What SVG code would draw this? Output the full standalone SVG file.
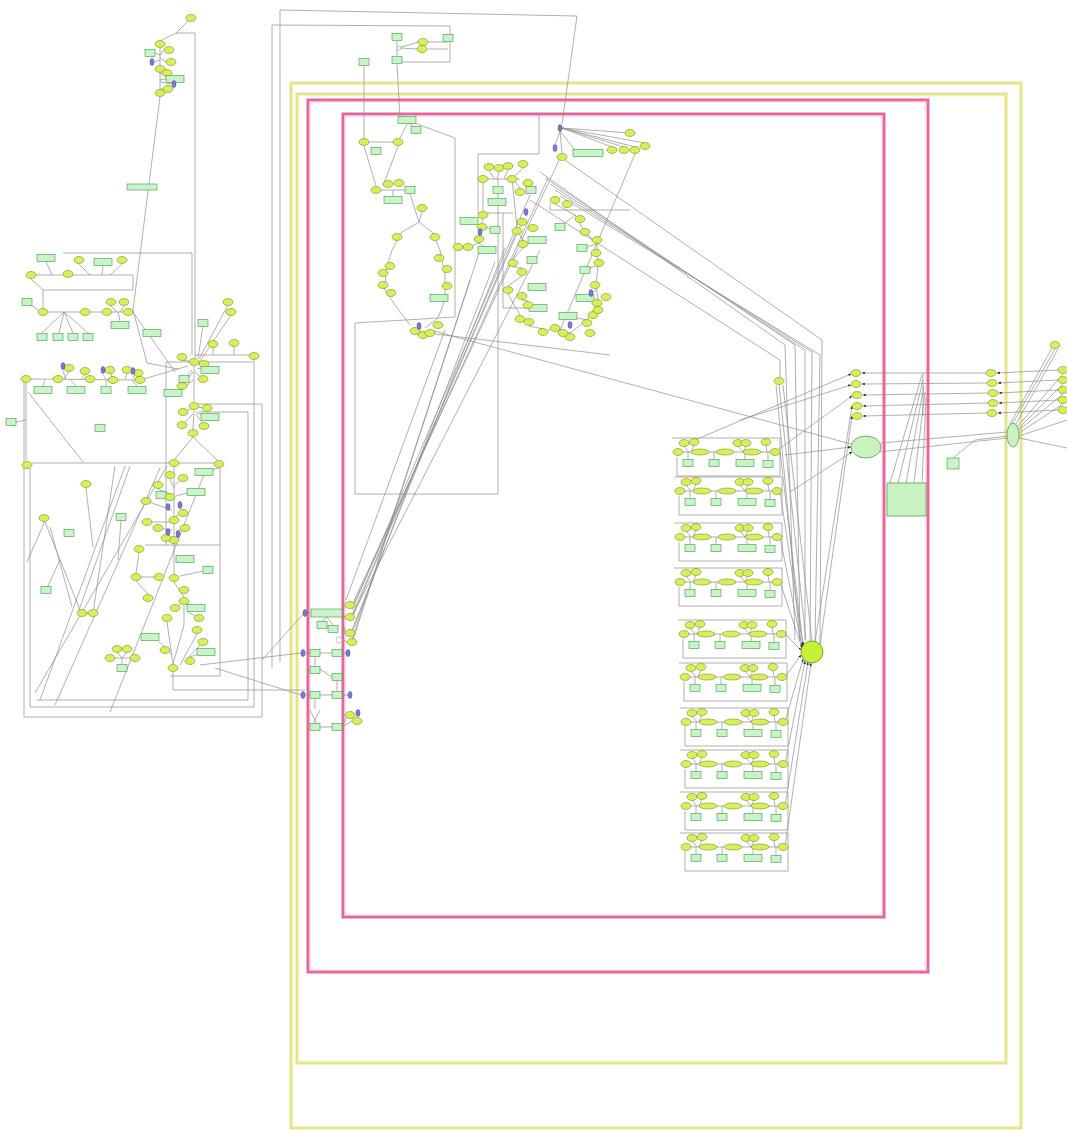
<svg xmlns="http://www.w3.org/2000/svg" xmlns:xlink="http://www.w3.org/1999/xlink" width="1067" height="1131" viewBox="0 0 1067 1131">
<style>
.cy{fill:none;stroke:#e4e48c;stroke-width:3}
.cyi{fill:none;stroke:#f6f6cc;stroke-width:1}
.cp{fill:none;stroke:#e8649c;stroke-width:3}
.cpi{fill:none;stroke:#f8c8dc;stroke-width:1}
.c{fill:none;stroke:#8e8e8e;stroke-width:0.7}
.ne{fill:#d6ef5a;stroke:#7d8f1a;stroke-width:0.6}
.nr{fill:#c9f3c9;stroke:#3f9a3f;stroke-width:0.6}
.nb{fill:#7b7bd6;stroke:#4444a0;stroke-width:0.5}
.big{fill:#c8f2c0;stroke:#5a9a5a;stroke-width:0.8}
</style>
<defs>
<marker id="a" viewBox="0 0 6 6" refX="6" refY="3" markerWidth="4" markerHeight="4" orient="auto"><path d="M0,0L6,3L0,6z" fill="#222"/></marker>
<ellipse id="e" rx="5" ry="3.5" class="ne"/>
<rect id="r" x="-5" y="-3.5" width="10" height="7" class="nr"/>
<rect id="w" x="-9" y="-3.5" width="18" height="7" class="nr"/>
<ellipse id="b" rx="2" ry="3.5" class="nb"/>
<ellipse id="l" rx="9" ry="3" class="ne"/>
<g id="rowT">
<path class="c" d="M-3,-14 L105,-14 L105,24 L2,24 L2,5 M3,0 L100,0 M9,-6 L14,0 M19,-7 L16,0 M63,-6 L68,0 M71,-6 L68,0 M91,-7 L92,0 M13,0 L13,8 M39,0 L39,8 M70,0 L70,8 M93,0 L93,9"/>
<use href="#e" x="3" y="0"/>
<use href="#l" x="25" y="0"/>
<use href="#l" x="50" y="0"/>
<use href="#l" x="77" y="0"/>
<use href="#e" x="100" y="0"/>
<use href="#e" x="9" y="-9"/>
<use href="#e" x="19" y="-10"/>
<use href="#e" x="63" y="-9"/>
<use href="#e" x="71" y="-9"/>
<use href="#e" x="91" y="-10"/>
<use href="#r" x="13" y="11"/>
<use href="#r" x="39" y="11"/>
<use href="#w" x="70" y="11"/>
<use href="#r" x="93" y="12"/>
</g>
</defs>
<rect width="1067" height="1131" fill="#ffffff"/>

<g id="compartments">
<rect x="291" y="83" width="730" height="1045" class="cy"/>
<rect x="293" y="85" width="726" height="1041" class="cyi"/>
<rect x="297" y="94" width="709" height="969" class="cy"/>
<rect x="299" y="96" width="705" height="965" class="cyi"/>
<rect x="308" y="100" width="620" height="872" class="cp"/>
<rect x="310" y="102" width="616" height="868" class="cpi"/>
<rect x="343" y="114" width="541" height="803" class="cp"/>
<rect x="345" y="116" width="537" height="799" class="cpi"/>
</g>

<g id="connectors">
<!-- top-left chain -->
<path class="c" d="M191,18 L176,33 L195,33 L195,358 M176,33 L160,41 M160,48 L160,90 M160,55 L155,53 M160,55 L164,50 M160,58 L166,62 M160,60 L154,62 M160,75 L162,73 M160,80 L166,79 M160,82 L172,84 M160,89 L163,89 M160,97 L133,310 L147,363 L178,369"/>
<!-- left upper -->
<path class="c" d="M46,262 L52,275 M79,264 L90,275 M103,266 L102,275 M122,264 L110,275 M31,275 L133,275 L133,290 L43,290 L43,308 M63,253 L192,253 L192,355 M31,279 L43,290 M27,302 L38,310 M48,312 L123,312 M64,312 L42,333 M64,312 L59,333 M64,312 L73,333 M64,312 L88,333 M111,306 L117,312 M124,306 L120,312 M118,312 L120,321 M133,312 L175,372"/>
<path class="c" d="M228,305 L199,359 M231,315 L200,361 M213,347 L213,355 M234,346 L234,355 M195,355 L254,355 L254,707 L30,707 L30,468 M203,326 L198,358"/>
<!-- hub -->
<path class="c" d="M31,379 L140,380 L188,366 M69,371 L64,379 M85,374 L82,379 M113,376 L110,379 M110,373 L113,379 M127,373 L125,379 M138,376 L140,380 M63,371 L66,379 M103,375 L106,379 M133,376 L135,379 M43,386 L45,380 M76,386 L70,379 M106,386 L106,380 M137,386 L132,380 M16,422 L26,420 M26,383 L26,460 M182,360 L194,362 M204,364 L196,362 M184,379 L192,370 M207,370 L197,368 M182,386 L193,372 M203,379 L195,372 M178,393 L193,380 M194,366 L194,402 M183,412 L193,408 M207,408 L196,407 M205,417 L196,412 M182,425 L193,414 M204,426 L196,414 M194,410 L193,429 M193,437 L175,459 M193,437 L217,460 M32,463 L169,463 M179,463 L214,463 M219,468 L205,472"/>
<!-- vertical chain -->
<path class="c" d="M174,467 L174,574 M183,478 L175,485 M170,479 L174,488 M158,489 L172,495 M161,495 L172,496 M191,492 L176,496 M170,497 L174,500 M146,501 L172,510 M183,513 L176,516 M147,522 L172,522 M158,528 L172,530 M185,528 L176,532 M166,538 L172,540 M174,582 L184,597 M184,605 L184,625 L173,664 M167,622 L173,664 M197,634 L180,665 M155,637 L172,655 M203,642 L186,660 M203,652 L190,657 M193,608 L186,604 M175,608 L182,603 M199,618 L188,612 M183,559 L176,560 M208,570 L180,576 M139,553 L136,573 M136,581 L148,594 M141,577 L154,577 M110,658 L135,658 M122,658 L122,664 M117,652 L122,658 M127,652 L122,658 M82,613 L93,613"/>
<!-- left frames and diagonals -->
<path class="c" d="M195,404 L262,404 L262,717 L24,717 L24,380 M199,412 L248,412 L248,700 L37,700 M166,362 L253,362 M166,362 L166,545 M145,545 L220,545 M220,467 L220,676 L170,676 M35,693 L167,466 M78,613 L130,466 M93,613 L115,466 M27,562 L45,521 M45,522 L80,610 M50,527 L72,607 M86,488 L93,547 M28,392 L83,462 M40,700 L125,466 M55,705 L160,468 M110,712 L205,472 M46,590 L60,560 M121,521 L118,560 M173,672 L173,690 L305,690 M200,665 L301,653 M215,668 L301,695 M262,660 L305,612"/>
<!-- top long lines -->
<path class="c" d="M280,662 L280,10 L577,16 L562,124 M272,668 L272,25 L450,26 L450,62 L402,62"/>
<!-- top middle small box -->
<path class="c" d="M397,41 L397,56 M399,48 L418,42 M399,48 L418,49 M428,42 L448,42 M428,49 L448,49 M364,66 L364,138 M397,64 L400,118 L416,128 M401,118 L455,138 L455,317 L355,323 L355,494 L498,494 L498,205 M369,142 L393,142 M364,146 L376,186 M398,146 L383,186 M381,190 L405,190 M393,190 L393,196 M410,194 L419,222 M422,212 L419,222 M407,124 L400,138"/>
<!-- left ring -->
<path class="c" d="M419,222 L402,232 L392,250 L386,270 L385,290 L395,305 L410,325 M419,222 L432,232 L440,250 L445,275 L445,300 L438,318 L425,328 M430,330 L851,444 M435,334 L610,355"/>
<!-- middle cluster -->
<path class="c" d="M478,154 L539,154 L539,115 M478,154 L478,213 L513,213 M503,213 L503,308 L540,308 M483,179 L520,179 M489,171 L495,179 M499,172 L497,179 M508,170 L504,179 M498,179 L498,186 M498,194 L498,198 M512,179 L523,168 M512,179 L520,188 M483,183 L483,211 M483,219 L482,223 M482,231 L479,235 M479,243 L468,247 M474,221 L482,227 M483,227 L495,230 M517,231 L523,240 M523,248 L513,259 M513,267 L522,268 M522,276 L508,286 M508,294 L520,315 M522,300 L528,301 M529,326 L543,329 M512,179 L517,227 M458,247 L468,247 M487,250 L479,243"/>
<!-- right ring -->
<path class="c" d="M555,204 L575,215 L585,232 L597,244 L598,265 L596,285 L598,300 L593,312 L587,320 L570,333 L555,328 L543,332 M560,227 L575,215 M582,248 L597,244 M585,270 L598,265 M585,298 L596,290 M568,316 L587,320 M550,203 L550,210 L630,210"/>
<!-- top right cluster -->
<path class="c" d="M562,128 L630,133 M562,128 L645,143 M562,128 L635,147 M562,128 L624,147 M562,128 L612,147 M560,131 L562,153 M560,131 L555,145 M560,131 L575,150 M635,154 L560,330"/>
<!-- fan from left pink nodes -->
<path class="c" d="M352,605 L560,158 M352,608 L548,178 M352,610 L530,195 M352,615 L522,222 M352,618 L515,235 M352,630 L505,248 M352,633 L495,262 M352,640 L480,250 M352,643 L470,280 M346,600 L445,330 M350,620 L540,250"/>
<!-- long diagonal lines to right -->
<path class="c" d="M540,172 L785,345 L795,640 M545,178 L795,345 L800,640 M550,184 L805,350 L805,640 M555,190 L812,352 L810,642 M560,196 L820,355 L815,642 M565,160 L822,340 L820,645 M530,200 L780,360 L780,385"/>
<!-- left pink (region E) -->
<path class="c" d="M307,613 L311,613 M342,611 L345,606 M342,615 L345,617 M327,617 L322,621 M327,617 L333,625 M342,617 L345,633 M339,637 L347,642 M305,653 L310,653 M320,653 L332,653 M342,653 L346,653 M315,657 L315,666 L332,677 M337,681 L337,691 M305,695 L310,695 M320,695 L332,695 M342,695 L348,695 M315,699 L315,709 M310,710 L320,730 M320,710 L310,730 M320,727 L332,727 M342,727 L352,721 M342,727 L347,716"/>
<!-- rows to big node -->
<path class="c" marker-end="url(#a)" d="M780,452 L803,645"/>
<path class="c" marker-end="url(#a)" d="M780,491 L803,646"/>
<path class="c" marker-end="url(#a)" d="M780,537 L802,647"/>
<path class="c" marker-end="url(#a)" d="M780,582 L802,648"/>
<path class="c" marker-end="url(#a)" d="M785,634 L801,650"/>
<path class="c" marker-end="url(#a)" d="M785,677 L801,655"/>
<path class="c" marker-end="url(#a)" d="M785,722 L803,659"/>
<path class="c" marker-end="url(#a)" d="M785,764 L805,661"/>
<path class="c" marker-end="url(#a)" d="M785,806 L808,662"/>
<path class="c" marker-end="url(#a)" d="M785,847 L811,663"/>
<path class="c" d="M779,385 L806,641 M783,385 L812,641 M776,385 L800,641"/>
<!-- rows to right column -->
<path class="c" marker-end="url(#a)" d="M690,442 L851,374"/>
<path class="c" marker-end="url(#a)" d="M740,420 L851,385"/>
<path class="c" marker-end="url(#a)" d="M775,452 L852,396"/>
<path class="c" marker-end="url(#a)" d="M815,642 L852,406"/>
<path class="c" marker-end="url(#a)" d="M820,645 L852,416"/>
<path class="c" marker-end="url(#a)" d="M785,455 L851,447"/>
<path class="c" marker-end="url(#a)" d="M790,492 L852,452"/>
<!-- right section horizontals -->
<path class="c" marker-end="url(#a)" d="M986,373 L862,373"/>
<path class="c" marker-end="url(#a)" d="M987,383 L862,384"/>
<path class="c" marker-end="url(#a)" d="M988,393 L863,395"/>
<path class="c" marker-end="url(#a)" d="M988,403 L863,406"/>
<path class="c" marker-end="url(#a)" d="M987,413 L863,416"/>
<path class="c" marker-end="url(#a)" d="M1058,370 L997,373"/>
<path class="c" marker-end="url(#a)" d="M1058,380 L998,383"/>
<path class="c" marker-end="url(#a)" d="M1058,390 L999,393"/>
<path class="c" marker-end="url(#a)" d="M1058,400 L999,403"/>
<path class="c" marker-end="url(#a)" d="M1058,410 L998,413"/>
<path class="c" d="M1055,349 L1013,423 M1058,349 L1016,424 M1063,374 L1017,427 M1063,384 L1018,429 M1063,394 L1018,431 M1063,404 L1019,433 M1019,438 L1067,448 M1019,436 L1067,420 M1052,348 L1010,424 M881,443 L1007,432 M879,452 L1007,438 M953,458 L975,440 L1007,436 M890,483 L922,375 M898,483 L923,380 M906,483 L924,386 M914,483 L925,392 M922,483 L926,398 M923,373 L923,416"/>
</g>

<g id="cluster-topleft">
<use href="#e" x="191" y="18"/><use href="#e" x="160" y="44"/><use href="#r" x="150" y="53"/><use href="#e" x="169" y="50"/><use href="#e" x="171" y="62"/><use href="#b" x="152" y="62"/><use href="#e" x="160" y="69"/><use href="#e" x="167" y="73"/><use href="#w" x="175" y="79"/><use href="#b" x="174" y="84"/><use href="#e" x="160" y="93"/><use href="#e" x="168" y="89"/>
<rect x="127" y="184" width="30" height="6" class="nr"/>
</g>

<g id="cluster-leftupper">
<use href="#w" x="46" y="258"/><use href="#e" x="79" y="260"/><use href="#w" x="103" y="262"/><use href="#e" x="122" y="260"/><use href="#e" x="31" y="275"/><use href="#e" x="68" y="274"/><use href="#r" x="27" y="302"/><use href="#e" x="43" y="312"/><use href="#e" x="85" y="312"/><use href="#e" x="107" y="312"/><use href="#e" x="128" y="312"/><use href="#e" x="111" y="302"/><use href="#e" x="124" y="302"/><use href="#w" x="120" y="325"/><use href="#r" x="42" y="337"/><use href="#r" x="58" y="337"/><use href="#r" x="73" y="337"/><use href="#r" x="88" y="337"/><use href="#w" x="152" y="333"/>
<use href="#e" x="228" y="302"/><use href="#e" x="231" y="312"/><use href="#r" x="203" y="323"/><use href="#e" x="213" y="344"/><use href="#e" x="234" y="343"/><use href="#e" x="254" y="356"/>
</g>

<g id="cluster-hub">
<use href="#e" x="194" y="362"/><use href="#e" x="182" y="357"/><use href="#e" x="204" y="364"/><use href="#r" x="184" y="379"/><use href="#w" x="210" y="370"/><use href="#e" x="182" y="386"/><use href="#e" x="203" y="379"/><use href="#w" x="173" y="393"/><use href="#e" x="194" y="406"/><use href="#e" x="183" y="412"/><use href="#e" x="207" y="408"/><use href="#w" x="210" y="417"/><use href="#e" x="182" y="425"/><use href="#e" x="193" y="433"/><use href="#e" x="204" y="426"/>
<use href="#e" x="26" y="379"/><use href="#e" x="58" y="379"/><use href="#e" x="69" y="368"/><use href="#e" x="85" y="371"/><use href="#e" x="90" y="379"/><use href="#e" x="113" y="380"/><use href="#e" x="110" y="370"/><use href="#e" x="127" y="370"/><use href="#e" x="138" y="373"/><use href="#e" x="140" y="380"/><use href="#w" x="43" y="390"/><use href="#w" x="76" y="390"/><use href="#r" x="106" y="390"/><use href="#w" x="137" y="390"/><use href="#b" x="63" y="366"/><use href="#b" x="103" y="370"/><use href="#b" x="133" y="371"/><use href="#r" x="11" y="422"/><use href="#r" x="100" y="428"/>
<use href="#e" x="27" y="465"/><use href="#e" x="174" y="463"/><use href="#e" x="219" y="464"/><use href="#w" x="204" y="472"/>
</g>

<g id="cluster-chain">
<use href="#e" x="183" y="478"/><use href="#e" x="170" y="475"/><use href="#e" x="158" y="485"/><use href="#r" x="161" y="495"/><use href="#w" x="196" y="492"/><use href="#e" x="170" y="497"/><use href="#e" x="146" y="501"/><use href="#e" x="183" y="513"/><use href="#e" x="174" y="520"/><use href="#e" x="147" y="522"/><use href="#e" x="158" y="528"/><use href="#e" x="185" y="528"/><use href="#e" x="174" y="540"/><use href="#e" x="166" y="538"/>
<use href="#b" x="168" y="507"/><use href="#b" x="180" y="505"/><use href="#b" x="168" y="532"/><use href="#b" x="178" y="534"/>
<use href="#e" x="86" y="484"/><use href="#e" x="44" y="518"/><use href="#r" x="69" y="533"/><use href="#r" x="121" y="517"/><use href="#e" x="139" y="549"/><use href="#e" x="136" y="577"/><use href="#e" x="159" y="577"/><use href="#e" x="148" y="598"/><use href="#e" x="174" y="578"/><use href="#w" x="185" y="559"/><use href="#r" x="208" y="570"/><use href="#e" x="184" y="590"/><use href="#w" x="196" y="608"/><use href="#e" x="175" y="608"/><use href="#e" x="184" y="601"/><use href="#e" x="199" y="618"/><use href="#e" x="167" y="618"/><use href="#e" x="197" y="630"/><use href="#w" x="150" y="637"/><use href="#e" x="203" y="642"/><use href="#w" x="206" y="652"/><use href="#e" x="165" y="650"/><use href="#e" x="190" y="661"/><use href="#e" x="173" y="668"/>
<use href="#e" x="82" y="613"/><use href="#e" x="93" y="613"/><use href="#r" x="46" y="590"/><use href="#e" x="117" y="649"/><use href="#e" x="127" y="649"/><use href="#e" x="110" y="658"/><use href="#e" x="135" y="658"/><use href="#r" x="122" y="668"/>
</g>

<g id="cluster-topmiddle">
<use href="#r" x="397" y="37"/><use href="#r" x="448" y="38"/><use href="#e" x="423" y="42"/><use href="#e" x="422" y="49"/><use href="#r" x="397" y="60"/><use href="#r" x="364" y="62"/>
<circle cx="399" cy="48" r="2" fill="#fff" stroke="#999" stroke-width="0.6"/>
</g>

<g id="cluster-ring">
<use href="#w" x="407" y="120"/><use href="#r" x="416" y="130"/><use href="#e" x="364" y="142"/><use href="#r" x="376" y="151"/><use href="#e" x="398" y="142"/><use href="#e" x="376" y="190"/><use href="#e" x="388" y="184"/><use href="#e" x="399" y="183"/><use href="#w" x="393" y="200"/><use href="#r" x="410" y="190"/><use href="#e" x="422" y="208"/>
<use href="#e" x="397" y="237"/><use href="#e" x="435" y="237"/><use href="#e" x="439" y="258"/><use href="#e" x="447" y="269"/><use href="#e" x="390" y="266"/><use href="#e" x="383" y="273"/><use href="#e" x="383" y="285"/><use href="#e" x="391" y="293"/><use href="#e" x="447" y="286"/><use href="#w" x="439" y="298"/><use href="#e" x="415" y="331"/><use href="#e" x="423" y="335"/><use href="#e" x="430" y="333"/><use href="#e" x="438" y="325"/><use href="#b" x="419" y="326"/>
</g>

<g id="cluster-middle">
<use href="#e" x="489" y="167"/><use href="#e" x="499" y="168"/><use href="#e" x="508" y="166"/><use href="#e" x="523" y="164"/><use href="#e" x="483" y="179"/><use href="#e" x="512" y="179"/><use href="#r" x="498" y="190"/><use href="#w" x="497" y="202"/><use href="#e" x="520" y="192"/><use href="#r" x="531" y="190"/><use href="#e" x="528" y="183"/>
<use href="#e" x="483" y="215"/><use href="#w" x="469" y="221"/><use href="#e" x="482" y="227"/><use href="#e" x="479" y="239"/><use href="#e" x="468" y="247"/><use href="#e" x="458" y="247"/><use href="#w" x="487" y="250"/><use href="#r" x="495" y="230"/><use href="#e" x="522" y="222"/><use href="#e" x="533" y="228"/><use href="#e" x="517" y="231"/><use href="#w" x="537" y="240"/><use href="#e" x="523" y="244"/><use href="#e" x="513" y="263"/><use href="#r" x="532" y="260"/><use href="#e" x="522" y="272"/><use href="#w" x="537" y="287"/><use href="#e" x="508" y="290"/><use href="#e" x="522" y="296"/><use href="#w" x="538" y="308"/><use href="#e" x="520" y="319"/><use href="#e" x="529" y="322"/><use href="#e" x="543" y="332"/><use href="#e" x="528" y="305"/>
<use href="#b" x="480" y="232"/><use href="#b" x="526" y="212"/>
</g>

<g id="cluster-rightring">
<use href="#e" x="555" y="200"/><use href="#e" x="567" y="204"/><use href="#r" x="560" y="227"/><use href="#e" x="580" y="219"/><use href="#e" x="585" y="232"/><use href="#e" x="597" y="240"/><use href="#r" x="582" y="248"/><use href="#e" x="596" y="253"/><use href="#e" x="599" y="263"/><use href="#r" x="585" y="270"/><use href="#e" x="595" y="285"/><use href="#e" x="606" y="297"/><use href="#w" x="585" y="298"/><use href="#e" x="597" y="303"/><use href="#e" x="593" y="315"/><use href="#e" x="598" y="310"/><use href="#e" x="587" y="323"/><use href="#w" x="568" y="316"/><use href="#e" x="590" y="333"/><use href="#e" x="570" y="337"/><use href="#e" x="563" y="333"/><use href="#e" x="555" y="328"/>
<use href="#b" x="591" y="293"/><use href="#b" x="570" y="325"/>
</g>

<g id="cluster-topright">
<use href="#b" x="560" y="128"/><use href="#e" x="562" y="157"/><rect x="573" y="149.5" width="30" height="7" class="nr"/><use href="#e" x="612" y="150"/><use href="#e" x="624" y="150"/><use href="#e" x="635" y="150"/><use href="#e" x="645" y="146"/><use href="#e" x="630" y="133"/><use href="#b" x="555" y="148"/>
</g>

<g id="cluster-pinkleft">
<use href="#b" x="305" y="613"/><rect x="311" y="609" width="31" height="8" class="nr"/><use href="#e" x="350" y="605"/><use href="#e" x="350" y="617"/><use href="#r" x="322" y="625"/><use href="#r" x="333" y="629"/><use href="#e" x="350" y="633"/><use href="#e" x="352" y="642"/>
<circle cx="339" cy="640" r="3" fill="#fff" stroke="#999" stroke-width="0.6"/>
<use href="#b" x="303" y="653"/><use href="#r" x="315" y="653"/><use href="#r" x="337" y="653"/><use href="#b" x="348" y="653"/>
<use href="#r" x="315" y="670"/><use href="#r" x="337" y="677"/>
<use href="#b" x="303" y="695"/><use href="#r" x="315" y="695"/><use href="#r" x="337" y="695"/><use href="#b" x="350" y="695"/>
<use href="#r" x="315" y="727"/><use href="#r" x="337" y="727"/><use href="#e" x="357" y="721"/><use href="#e" x="350" y="715"/><use href="#b" x="358" y="713"/>
</g>

<g id="rows">
<g id="row1"><use href="#rowT" x="675" y="452"/></g>
<g id="row2"><use href="#rowT" x="677" y="491"/></g>
<g id="row3"><use href="#rowT" x="677" y="537"/></g>
<g id="row4"><use href="#rowT" x="677" y="582"/></g>
<g id="row5"><use href="#rowT" x="681" y="634"/></g>
<g id="row6"><use href="#rowT" x="682" y="677"/></g>
<g id="row7"><use href="#rowT" x="683" y="722"/></g>
<g id="row8"><use href="#rowT" x="683" y="764"/></g>
<g id="row9"><use href="#rowT" x="683" y="806"/></g>
<g id="row10"><use href="#rowT" x="683" y="847"/></g>
</g>

<g id="node-hub-green"><circle cx="812" cy="652" r="11" fill="#c8f03a" stroke="#6a8a10" stroke-width="0.8"/></g>
<g id="node-big-ellipse"><ellipse cx="866" cy="447" rx="15" ry="11" class="big"/></g>
<g id="node-big-rect"><rect x="887" y="483" width="39" height="33" class="big"/></g>
<g id="node-small-rect"><rect x="947" y="458" width="12" height="11" class="nr"/></g>
<g id="node-right-ellipse"><ellipse cx="1013" cy="435" rx="6" ry="12" class="big"/></g>
<g id="node-upper"><use href="#e" x="779" y="381"/></g>

<g id="cluster-rightcols">
<use href="#e" x="856" y="373"/><use href="#e" x="856" y="384"/><use href="#e" x="857" y="395"/><use href="#e" x="857" y="406"/><use href="#e" x="857" y="416"/>
<use href="#e" x="991" y="373"/><use href="#e" x="992" y="383"/><use href="#e" x="993" y="393"/><use href="#e" x="993" y="403"/><use href="#e" x="992" y="413"/>
<use href="#e" x="1055" y="345"/><use href="#e" x="1063" y="370"/><use href="#e" x="1063" y="380"/><use href="#e" x="1063" y="390"/><use href="#e" x="1063" y="400"/><use href="#e" x="1063" y="410"/>
</g>
</svg>
